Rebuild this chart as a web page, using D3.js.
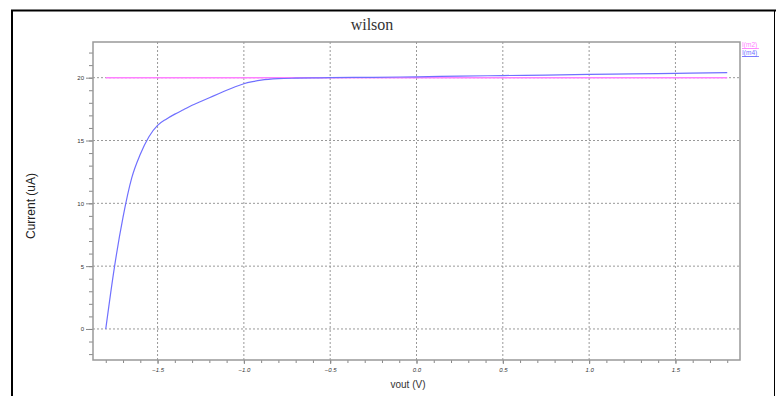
<!DOCTYPE html>
<html><head><meta charset="utf-8">
<script src="https://cdn.jsdelivr.net/npm/d3@7/dist/d3.min.js"></script>
<style>html,body{margin:0;padding:0;background:#fff;}svg{display:block;}</style>
</head><body>
<svg id="c" width="776" height="396"></svg>
<script>
const title = "wilson";
const xLabel = "vout (V)";
const yLabel = "Current (uA)";
const seriesNames = ["I(m2)", "I(m4)"];
const seriesColors = ["#ff80ff", "#7070ff"];
const xTicks = [-1.5, -1.0, -0.5, 0.0, 0.5, 1.0, 1.5];
const yTicks = [0, 5, 10, 15, 20];
const voutM2 = [-1.8, 1.8];
const iM2 = [20, 20];
const voutM4 = [-1.8, -1.75, -1.7, -1.65, -1.6, -1.55, -1.5, -1.45, -1.4, -1.35, -1.3, -1.25, -1.2, -1.15, -1.1, -1.05, -1.0, -0.95, -0.9, -0.8, -0.7, -0.6, -0.5, -0.25, 0, 0.25, 0.5, 0.75, 1.0, 1.25, 1.5, 1.8];
const iM4 = [0, 4.9, 8.9, 12.0, 13.9, 15.3, 16.2, 16.7, 17.1, 17.45, 17.8, 18.1, 18.4, 18.7, 19.0, 19.28, 19.52, 19.68, 19.8, 19.92, 19.96, 19.98, 20.0, 20.03, 20.07, 20.12, 20.17, 20.21, 20.26, 20.3, 20.34, 20.4];

const svg = d3.select("#c");
const L = 93, R = 740, T = 42, B = 360;
const x = d3.scaleLinear().domain([-1.874, 1.874]).range([L, R]);
const y = d3.scaleLinear().domain([-2.47, 22.84]).range([B, T]);

// outer frame
svg.append("line").attr("x1", 11).attr("x2", 776).attr("y1", 10.5).attr("y2", 10.5).attr("stroke", "#000").attr("stroke-width", 2);
svg.append("line").attr("x1", 12).attr("x2", 12).attr("y1", 10).attr("y2", 396).attr("stroke", "#000").attr("stroke-width", 2);
svg.append("line").attr("x1", 774.5).attr("x2", 774.5).attr("y1", 10).attr("y2", 396).attr("stroke", "#000").attr("stroke-width", 1);

// grid
const g = svg.append("g");
g.selectAll(".gx").data(xTicks).enter().append("line")
  .attr("x1", d => x(d)).attr("x2", d => x(d)).attr("y1", T).attr("y2", B)
  .attr("stroke", "#999").attr("stroke-dasharray", "2,2").attr("stroke-width", 1);
g.selectAll(".gy").data(yTicks).enter().append("line")
  .attr("y1", d => y(d)).attr("y2", d => y(d)).attr("x1", L).attr("x2", R)
  .attr("stroke", "#999").attr("stroke-dasharray", "2,2").attr("stroke-width", 1);

// axes
const xMinor = d3.range(-18, 19).map(v => v / 10);
const yMinor = d3.range(-2, 23);
const xAxisMinor = d3.axisBottom(x).tickValues(xMinor).tickSize(3).tickFormat("");
const xAxis = d3.axisBottom(x).tickValues(xTicks).tickSize(4).tickFormat(d3.format(".1f"));
const yAxisMinor = d3.axisLeft(y).tickValues(yMinor).tickSize(4).tickFormat("");
const yAxis = d3.axisLeft(y).tickValues(yTicks).tickSize(7).tickFormat(d3.format("d"));
function style(sel) {
  sel.select(".domain").remove();
  sel.selectAll("line").attr("stroke", "#888");
  sel.selectAll("text").attr("font-family", "Liberation Sans, Arial, sans-serif").attr("font-size", 6).attr("fill", "#333").attr("font-style", "italic");
}
svg.append("g").attr("transform", `translate(0,${B})`).call(xAxisMinor).call(style);
svg.append("g").attr("transform", `translate(0,${B})`).call(xAxis).call(style).selectAll("text").attr("dy", "0.9em");
svg.append("g").attr("transform", `translate(${L},0)`).call(yAxisMinor).call(style);
svg.append("g").attr("transform", `translate(${L},0)`).call(yAxis).call(style).selectAll("text").attr("x", -9).attr("font-style", "normal");

// plot frame
svg.append("rect").attr("x", L).attr("y", T).attr("width", R - L).attr("height", B - T)
  .attr("fill", "none").attr("stroke", "#999").attr("stroke-width", 1.5);

// series
const line = d3.line().x(d => x(d[0])).y(d => y(d[1])).curve(d3.curveMonotoneX);
svg.append("path").datum(d3.zip(voutM2, iM2)).attr("d", line)
  .attr("fill", "none").attr("stroke", seriesColors[0]).attr("stroke-width", 1.5);
svg.append("path").datum(d3.zip(voutM4, iM4)).attr("d", line)
  .attr("fill", "none").attr("stroke", seriesColors[1]).attr("stroke-width", 1.2);

// title
svg.append("text").attr("x", 372).attr("y", 30).attr("text-anchor", "middle")
  .attr("font-family", "Liberation Serif, Times New Roman, serif").attr("font-size", 16).attr("fill", "#333").text(title);

// axis labels
svg.append("text").attr("x", 408).attr("y", 388).attr("text-anchor", "middle")
  .attr("font-family", "Liberation Sans, Arial, sans-serif").attr("font-size", 10).attr("fill", "#333").text(xLabel);
svg.append("text").attr("transform", "translate(35,206) rotate(-90)").attr("text-anchor", "middle")
  .attr("font-family", "Liberation Sans, Arial, sans-serif").attr("font-size", 12).attr("fill", "#222").text(yLabel);

// legend
seriesNames.forEach((n, i) => {
  const ty = 47 + i * 8;
  svg.append("text").attr("x", 742).attr("y", ty).attr("font-family", "Liberation Sans, Arial, sans-serif")
    .attr("font-size", 6.5).attr("fill", seriesColors[i]).attr("text-decoration", "underline").text(n);
  svg.append("line").attr("x1", 742).attr("x2", 759).attr("y1", ty + 1.5).attr("y2", ty + 1.5)
    .attr("stroke", seriesColors[i]).attr("stroke-width", 0.8);
});
</script>
</body></html>
